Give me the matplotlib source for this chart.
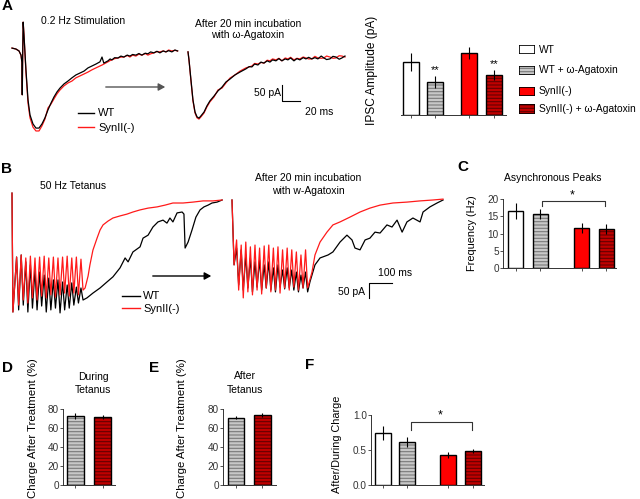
import matplotlib
matplotlib.use('Agg')
import matplotlib.pyplot as plt

plt.rcParams['font.family'] = ['Liberation Sans', 'DejaVu Sans']
plt.rcParams['hatch.linewidth'] = 0.8

# ---------------- data ----------------
groups4 = ['WT', 'WT + ω-Agatoxin', 'SynII(-)', 'SynII(-) + ω-Agatoxin']

ipsc_amp = [159, 99, 186, 120]          # pA
ipsc_err = [27, 18, 18, 15]
async_freq = [16.5, 15.6, 11.6, 11.3]  # Hz
async_err = [2.3, 1.5, 1.4, 1.4]
during_pct = [72.6, 71.6]               # %
during_err = [2.8, 2.6]
after_pct = [71.0, 73.5]
after_err = [2.0, 2.0]
ratio = [0.74, 0.61, 0.43, 0.49]
ratio_err = [0.10, 0.07, 0.04, 0.03]

# Panel A traces (ms, pA)
a1_t = [0, 4.4, 7.8, 10, 11, 11.4, 11.8, 12.4, 13.3, 15.5, 17.8, 20, 23.3, 26.6, 30, 33.3,
        36.6, 40, 43.3, 46.6, 50, 53.3, 57.8, 62.2, 66.6, 71, 75.5, 80, 84.4, 88.8, 93.2,
        97.7, 100, 102,
        106.6, 109, 111, 114, 117.7, 121, 124.3, 128, 131, 134, 137.6, 141, 144.3, 148,
        151, 154, 157.6, 161, 164.3, 168, 171, 174, 177.6, 181, 184]
a1_wt = [6, 3, -3, -16, -38, -140, -31, 87, 47, -62, -156, -203, -231, -244, -244, -231,
         -212, -187, -166, -147, -131, -119, -106, -97, -87, -78, -72, -66, -56, -50, -44,
         -37, -22, -41,
         -34, -28, -31, -24, -25, -19, -22, -16, -19, -14, -16, -11, -16, -10, -12, -6, -9,
         -4, -9, -3, -6, -2, -6, 0, -3]
a1_syn = [6, 3, -3, -16, -38, -140, -31, 87, 47, -69, -166, -212, -241, -253, -253, -237,
          -216, -181, -169, -153, -137, -125, -112, -103, -97, -87, -81, -75, -69, -62, -56,
          -50, -47, -44,
          -37, -33, -31, -27, -25, -22, -22, -17, -22, -16, -19, -13, -16, -11, -16, -12,
          -9, -5, -6, -3, -6, 0, -3, -1, -3]
a2_t = [0, 1.1, 3.3, 5.5, 7.8, 10, 12.2, 14.4, 17.8, 21, 24.4, 28.9, 33.3, 37.8, 42.2, 46.6,
        52.2, 57.8,
        64.4, 68, 71, 74, 77.7, 81, 84.4, 88, 91, 94, 97.7, 101, 104.3, 108, 111, 114,
        117.7, 121, 124.3, 128, 131, 134, 137.6, 141, 144.3, 148, 151, 154, 157.6, 161,
        164.3, 168, 171, 174.4]
a2_wt = [16, -9, -72, -134, -172, -187, -191, -184, -172, -153, -137, -122, -106, -94, -78,
         -69, -56, -47,
         -37, -30, -31, -22, -25, -16, -19, -12, -16, -9, -12, -5, -12, -6, -9, -3, -12, -5,
         -9, -2, -6, -1, -6, -2, -6, 3, -3, -8, -6, 2, 0, -7, -3, 3]
a2_syn = [16, -9, -75, -137, -175, -190, -194, -187, -175, -156, -140, -125, -103, -97, -81,
          -66, -56, -44,
          -34, -31, -28, -20, -22, -17, -19, -10, -12, -6, -9, -4, -12, -3, -6, -1, -9, -4,
          -6, 0, -3, -6, -6, 2, -3, -4, -3, 3, 0, -4, -3, 4, 3, 0]

# Panel B traces (ms, pA)
tet16_t = [0, 4, 20, 29, 40, 49, 60, 69, 80, 89, 100, 109, 120, 129, 140, 149, 160, 169,
           180, 189, 200, 209, 220, 229, 240, 249, 260, 269, 280, 289, 300, 309]
b1_syn_tet = [23, -373, -190, -350, -183, -333, -193, -343, -187, -326, -193, -333, -190,
              -320, -187, -326, -193, -316, -190, -323, -193, -316, -190, -310, -187, -320,
              -193, -310, -190, -316, -197, -300]
b1_syn_rec_t = [318, 331, 339, 352, 370, 383, 396, 418, 439, 470, 500, 526, 557, 592, 631,
                666, 700, 744, 787, 831, 874, 914]
b1_syn_rec = [-293, -253, -216, -167, -127, -100, -83, -70, -60, -53, -47, -40, -33, -27,
              -23, -17, -10, -10, -7, -3, -3, 0]
b1_wt_tet = [23, -373, -190, -366, -183, -350, -206, -373, -216, -360, -233, -366, -240,
             -353, -250, -373, -260, -366, -266, -360, -266, -376, -273, -366, -283, -360,
             -276, -350, -290, -343, -293, -333]
b1_wt_rec_t = [326, 352, 383, 413, 439, 470, 492, 505, 526, 557, 570, 592, 613, 635, 657,
               674, 687, 700, 718, 740, 748, 753, 766, 783, 800, 818, 835, 853, 870, 892, 914]
b1_wt_rec = [-326, -310, -293, -273, -256, -226, -193, -206, -173, -156, -127, -117, -90,
             -73, -67, -77, -60, -73, -43, -40, -47, -160, -140, -100, -57, -33, -23, -17,
             -10, -7, 0]

tet17_t = [0, 9, 20, 29, 40, 49, 60, 69, 80, 89, 100, 109, 120, 129, 140, 149, 160, 169,
           180, 189, 200, 209, 220, 229, 240, 249, 260, 269, 280, 289, 300, 309, 320, 329]
b2_syn_tet = [0, -216, -133, -300, -150, -326, -140, -306, -156, -316, -150, -300, -160,
              -313, -153, -293, -150, -306, -160, -300, -156, -310, -166, -293, -160, -300,
              -166, -290, -173, -300, -183, -293, -166, -293]
b2_syn_rec_t = [348, 361, 383, 413, 439, 470, 513, 557, 600, 644, 700, 761, 818, 874, 918]
b2_syn_rec = [-240, -183, -140, -107, -83, -73, -57, -40, -27, -17, -10, -7, -3, 0, 3]
b2_wt_tet = [0, -216, -160, -283, -166, -300, -183, -293, -193, -306, -206, -290, -200,
             -300, -216, -293, -206, -300, -226, -306, -216, -290, -233, -296, -226, -293,
             -233, -300, -240, -306, -250, -293, -240, -306]
b2_wt_rec_t = [339, 361, 383, 418, 439, 470, 500, 522, 535, 557, 579, 600, 622, 644, 674,
               696, 718, 740, 761, 787, 818, 831, 861, 892, 918]
b2_wt_rec = [-273, -216, -193, -183, -173, -140, -117, -133, -160, -166, -133, -127, -107,
             -110, -83, -90, -67, -107, -73, -60, -73, -40, -23, -10, 0]

# ---------------- figure ----------------
W, H = 640, 499
fig = plt.figure(figsize=(6.4, 4.99), dpi=100)


def box(x0, y0, x1, y1):
    return [x0 / W, 1 - y1 / H, (x1 - x0) / W, (y1 - y0) / H]


def ftext(x, y, s, **kw):
    kw.setdefault('ha', 'center')
    kw.setdefault('va', 'center')
    fig.text(x / W, 1 - y / H, s, **kw)


def trace_ax(x0, y0, x1, y1, xorg, ms_pp, yorg, pa_pp):
    ax = fig.add_axes(box(x0, y0, x1, y1))
    ax.set_xlim((x0 - xorg) * ms_pp, (x1 - xorg) * ms_pp)
    ax.set_ylim((yorg - y1) * pa_pp, (yorg - y0) * pa_pp)
    ax.axis('off')
    ax.set_facecolor('none')
    return ax


RED = '#ff1a1a'
LW = 0.9

# Panel A traces
axa1 = trace_ax(5, 10, 185, 140, 12, 1.111, 50, 3.125)
axa1.plot(a1_t, a1_syn, color=RED, lw=LW)
axa1.plot(a1_t, a1_wt, color='black', lw=LW)
axa2 = trace_ax(183, 10, 352, 140, 188, 1.111, 57, 3.125)
axa2.plot(a2_t, a2_syn, color=RED, lw=LW)
axa2.plot(a2_t, a2_wt, color='black', lw=LW)
# scale bar A (50 pA, 20 ms)
sx = (282 - 188) * 1.111
sy = (57 - 101) * 3.125
axa2.plot([sx, sx, sx + 20], [sy + 50, sy, sy], color='black', lw=0.8)
ftext(281, 93, '50 pA', ha='right', fontsize=7.5)
ftext(305, 112, '20 ms', ha='left', fontsize=7.5)

# Panel B traces (red drawn on top)
axb1 = trace_ax(5, 185, 228, 322, 12, 4.35, 200, 3.33)
axb1.plot(tet16_t + b1_wt_rec_t, b1_wt_tet + b1_wt_rec, color='black', lw=LW)
axb1.plot(tet16_t + b1_syn_rec_t, b1_syn_tet + b1_syn_rec, color=RED, lw=LW)
axb2 = trace_ax(225, 185, 450, 322, 232, 4.35, 200, 3.33)
axb2.plot(tet17_t + b2_wt_rec_t, b2_wt_tet + b2_wt_rec, color='black', lw=LW)
axb2.plot(tet17_t + b2_syn_rec_t, b2_syn_tet + b2_syn_rec, color=RED, lw=LW)
bx = (369 - 232) * 4.35
by = (200 - 283) * 3.33
axb2.plot([bx, bx, bx + 100], [by - 50, by, by], color='black', lw=0.8)
ftext(395, 273, '100 ms', fontsize=7.5)
ftext(365, 292, '50 pA', ha='right', fontsize=7.5)

# arrows
fig.add_artist(matplotlib.patches.FancyArrowPatch(
    (103 / W, 1 - 87 / H), (168 / W, 1 - 87 / H), transform=fig.transFigure,
    arrowstyle='-|>,head_length=4,head_width=2.2', color='#555555', lw=1.0))
fig.add_artist(matplotlib.patches.FancyArrowPatch(
    (150 / W, 1 - 276 / H), (214 / W, 1 - 276 / H), transform=fig.transFigure,
    arrowstyle='-|>,head_length=4,head_width=2.2', color='black', lw=1.0))

# trace legends
for (x0, x1, y, col) in [(78, 94, 113, 'black'), (78, 94, 127, RED),
                         (122, 140, 296, 'black'), (122, 140, 308, RED)]:
    fig.add_artist(matplotlib.lines.Line2D([x0 / W, x1 / W], [1 - y / H, 1 - y / H],
                                           color=col, lw=1.0))
ftext(98, 113, 'WT', ha='left', fontsize=8)
ftext(98, 128, 'SynII(-)', ha='left', fontsize=8)
ftext(143, 296, 'WT', ha='left', fontsize=8)
ftext(143, 309, 'SynII(-)', ha='left', fontsize=8)

# titles
ftext(83, 21, '0.2 Hz Stimulation', fontsize=7.5)
ftext(248, 24, 'After 20 min incubation', fontsize=7.5)
ftext(248, 35, 'with ω-Agatoxin', fontsize=7.5)
ftext(73, 186, '50 Hz Tetanus', fontsize=7.5)
ftext(308, 178, 'After 20 min incubation', fontsize=7.5)
ftext(308, 191, 'with w-Agatoxin', fontsize=7.5)

# panel letters
for (x, y, s) in [(2, 6, 'A'), (1, 169, 'B'), (457, 167, 'C'), (2, 368, 'D'),
                  (149, 368, 'E'), (305, 365, 'F')]:
    ftext(x, y, s, ha='left', fontsize=11, fontweight='bold')

# ---------------- bar charts ----------------
STY = {
    'WT': dict(face='white', hatch=None, hc='black'),
    'WT + ω-Agatoxin': dict(face='#c8c8c8', hatch='-----', hc='#7a7a7a'),
    'SynII(-)': dict(face='#ff0000', hatch=None, hc='black'),
    'SynII(-) + ω-Agatoxin': dict(face='#c00000', hatch='-----', hc='#650000'),
}


def bar_ax(x0, y0, x1, y1, xlim, ylim):
    ax = fig.add_axes(box(x0, y0, x1, y1))
    ax.set_xlim(*xlim)
    ax.set_ylim(*ylim)
    ax.set_facecolor('none')
    for s in ['top', 'right']:
        ax.spines[s].set_visible(False)
    for s in ['left', 'bottom']:
        ax.spines[s].set_linewidth(0.7)
        ax.spines[s].set_color('#333333')
    ax.tick_params(labelsize=7.2, length=2, width=0.6, pad=1, colors='#333333')
    return ax


def draw_bars(ax, xs, vals, errs, names, width):
    for x, v, e, n in zip(xs, vals, errs, names):
        st = STY[n]
        ax.bar(x, v, width, color=st['face'], edgecolor=st['hc'], hatch=st['hatch'],
               linewidth=0, zorder=2)
        ax.bar(x, v, width, fill=False, edgecolor='black', linewidth=1.0, zorder=3)
        ax.errorbar(x, v, yerr=e, fmt='none', ecolor='black', elinewidth=0.8,
                    capsize=0, zorder=4)
    ax.set_xticks(xs)
    ax.set_xticklabels([])


# A bar chart
axA = bar_ax(401, 15, 506, 115, (-0.39, 3.86), (0, 300))
draw_bars(axA, [0, 1, 2.35, 3.37], ipsc_amp, ipsc_err, groups4, 0.65)
axA.spines['left'].set_visible(False)
axA.set_yticks([])
axA.text(1, ipsc_amp[1] + ipsc_err[1] + 3, '**', ha='center', va='bottom', fontsize=8)
axA.text(3.37, ipsc_amp[3] + ipsc_err[3] + 3, '**', ha='center', va='bottom', fontsize=8)
ftext(372, 70, 'IPSC Amplitude (pA)', rotation=90, fontsize=8.6)

# A legend
for i, n in enumerate(groups4):
    yc = [50, 70, 91, 109][i]
    st = STY[n]
    axL = fig.add_axes(box(519, yc - 4.5, 535, yc + 4.5))
    axL.set_xlim(0, 1)
    axL.set_ylim(0, 1)
    axL.axis('off')
    axL.bar(0.5, 1, 1, color=st['face'], edgecolor=st['hc'], hatch=st['hatch'], linewidth=0)
    axL.bar(0.5, 1, 1, fill=False, edgecolor='black', linewidth=1.2)
    ftext(539, yc, n, ha='left', fontsize=7.4)

# C
axC = bar_ax(503, 199, 616, 268, (-0.51, 4.06), (0, 20))
draw_bars(axC, [0, 1, 2.67, 3.67], async_freq, async_err, groups4, 0.63)
axC.set_yticks([0, 5, 10, 15, 20])
axC.plot([1.05, 1.05, 3.6, 3.6], [18.0, 19.3, 19.3, 18.0], color='#333333', lw=0.8,
         clip_on=False)
axC.text(2.3, 19.4, '*', ha='center', va='bottom', fontsize=9)
ftext(553, 178, 'Asynchronous Peaks', fontsize=7.5)
ftext(472, 233, 'Frequency (Hz)', rotation=90, fontsize=7.9)

# D
axD = bar_ax(63, 409, 115, 485, (-0.46, 1.46), (0, 80))
draw_bars(axD, [0, 1], during_pct, during_err, groups4[1::2], 0.63)
axD.set_yticks([0, 20, 40, 60, 80])
ftext(93, 377, 'During', fontsize=7.5)
ftext(93, 390, 'Tetanus', fontsize=7.5)
ftext(33, 428, 'Charge After Treatment (%)', rotation=90, fontsize=8.2)

# E
axE = bar_ax(223, 409, 276, 485, (-0.49, 1.51), (0, 80))
draw_bars(axE, [0, 1], after_pct, after_err, groups4[1::2], 0.63)
axE.set_yticks([0, 20, 40, 60, 80])
ftext(245, 376, 'After', fontsize=7.5)
ftext(245, 390, 'Tetanus', fontsize=7.5)
ftext(182, 428, 'Charge After Treatment (%)', rotation=90, fontsize=8.2)

# F
axF = bar_ax(371, 415, 484, 485, (-0.49, 4.1), (0, 1.0))
draw_bars(axF, [0, 0.98, 2.65, 3.67], ratio, ratio_err, groups4, 0.65)
axF.set_yticks([0.0, 0.5, 1.0])
axF.set_yticklabels(['0.0', '0.5', '1.0'])
axF.plot([1.15, 1.15, 3.6, 3.6], [0.79, 0.90, 0.90, 0.79], color='#333333', lw=0.8,
         clip_on=False)
axF.text(2.3, 0.91, '*', ha='center', va='bottom', fontsize=9)
ftext(337, 444, 'After/During Charge', rotation=90, fontsize=7.8)

fig.savefig('out.png', dpi=100, facecolor='white')
